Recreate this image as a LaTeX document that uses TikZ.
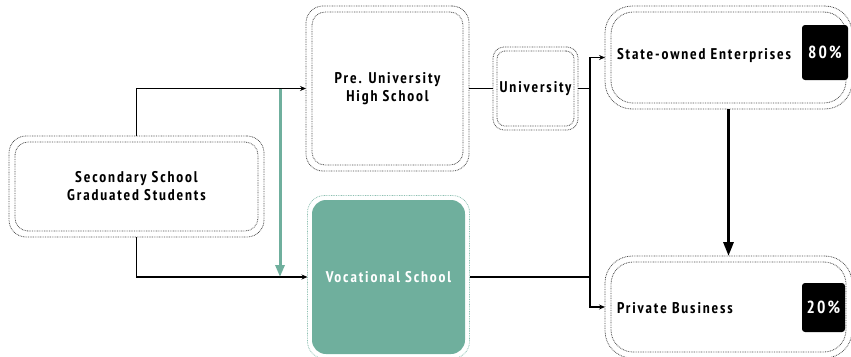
\documentclass[tikz,border=0pt]{standalone}
\usepackage{fontspec}
\setmainfont{PT Sans Narrow}[LetterSpace=12]
\usetikzlibrary{arrows.meta,fit}
\definecolor{vocgreen}{RGB}{111,175,157}

\begin{document}
\begin{tikzpicture}[x=1pt,y=-1pt,
	every node/.style={font=\bfseries\fontsize{15.5}{18}\selectfont, align=center, inner sep=0pt, outer sep=0pt},
	inbox/.style={draw=black!70, line width=0.8pt, dash pattern=on 0.8pt off 0.9pt, rounded corners=13},
	outbox/.style={draw=black!70, line width=0.8pt, dash pattern=on 0.8pt off 0.9pt, rounded corners=17, inner sep=6pt},
	badge/.style={fill=black, text=white, rounded corners=3, font=\bfseries\fontsize{17.5}{18}\selectfont},
	conn/.style={line width=1.2pt, -{Stealth[length=6pt,width=5pt]}},
	link/.style={line width=1.2pt}]
	\useasboundingbox (0,0) rectangle (851,356);
	% boxes
	\node[inbox, minimum width=243, minimum height=89] (sec) at (136.5,186.5) {Secondary School\\Graduated Students};
	\node[outbox, fit=(sec)] (secO) {};
	\node[inbox, minimum width=151, minimum height=153] (pre) at (387.5,88.5) {Pre. University\\High School};
	\node[outbox, fit=(pre)] (preO) {};
	\node[inbox, rounded corners=8, minimum width=77, minimum height=75] (uni) at (535.5,88.5) {University};
	\node[outbox, rounded corners=11, inner sep=4pt, fit=(uni)] (uniO) {};
	\node[fill=vocgreen, text=white, rounded corners=14, minimum width=153, minimum height=154] (voc) at (388.5,277) {Vocational School};
	\node[outbox, draw=vocgreen!80, inner sep=4.5pt, fit=(voc)] (vocO) {};
	\node[inbox, rounded corners=22, minimum width=235, minimum height=91] (state) at (728.5,57.5) {};
	\node[outbox, rounded corners=27, fit=(state)] (stateO) {};
	\node[inbox, rounded corners=22, minimum width=235, minimum height=90] (priv) at (728.5,307) {};
	\node[outbox, rounded corners=27, fit=(priv)] (privO) {};
	% labels
	\node[anchor=west] (stateTxt) at (617,56) {State-owned Enterprises};
	\node[badge, minimum width=46, minimum height=55] (stateBadge) at (825,52.5) {80\%};
	\node[anchor=west] (privTxt) at (617,308) {Private Business};
	\node[badge, minimum width=43, minimum height=49] (privBadge) at (823.5,307.5) {20\%};
	% connectors
	\coordinate (split) at (590,88.5);
	\coordinate (gx) at (280,0);
	\draw[conn] (secO.north) |- (preO.west);
	\draw[conn] (secO.south) |- (vocO.west);
	\draw[link] (preO.east) -- (uniO.west);
	\draw[link] (uniO.east) -- (split);
	\draw[conn] (split) |- (stateO.west);
	\draw[conn] (split) |- (privO.west);
	\draw[link] (vocO.east) -- (vocO.east -| split);
	\draw[line width=3pt, -{Triangle[length=14pt,width=10pt]}] (stateO.south) -- (privO.north);
	\draw[vocgreen, line width=3pt, -{Triangle[length=12pt,width=9pt]}] (preO.west -| gx) -- (vocO.west -| gx);
\end{tikzpicture}
\end{document}
